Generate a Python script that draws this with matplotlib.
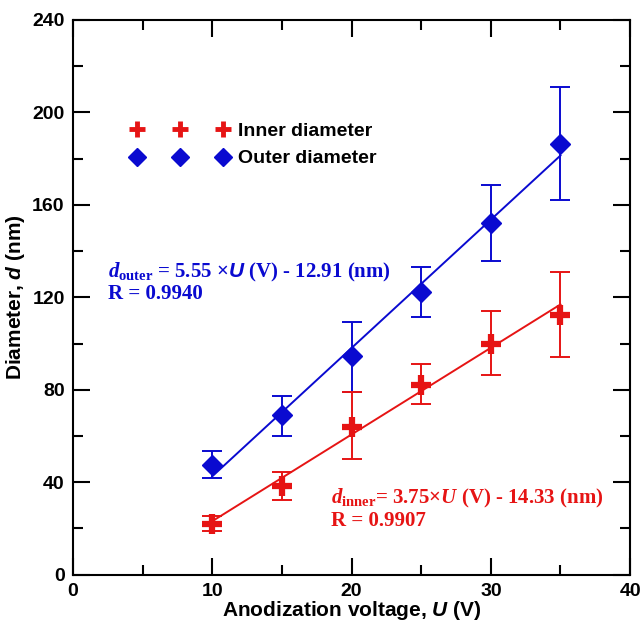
import numpy as np
import matplotlib
matplotlib.use("Agg")
from matplotlib import pyplot as plt
from matplotlib.ticker import MultipleLocator

plt.rcParams['font.family'] = ['Liberation Sans', 'DejaVu Sans']
plt.rcParams['mathtext.fontset'] = 'custom'
plt.rcParams['mathtext.rm'] = 'Liberation Serif:bold'
plt.rcParams['mathtext.it'] = 'Liberation Serif:bold:italic'
plt.rcParams['mathtext.sf'] = 'Liberation Sans:bold:italic'

# data
voltage = [10, 15, 20, 25, 30, 35]
outer = [47.5, 69, 94.5, 122.5, 152, 186.5]
outer_lo = [42, 60, 79, 111.5, 135.5, 162]
outer_hi = [53.5, 77.5, 109.5, 133, 168.5, 211]
inner = [22, 38.5, 64, 82, 100, 112.5]
inner_lo = [19, 32.5, 50, 74, 86.5, 94]
inner_hi = [25.5, 44.5, 79, 91, 114, 131]

# linear fits given in the annotations
outer_fit = (5.55, -12.91)
inner_fit = (3.75, -14.33)

blue = '#0a0ad0'
red = '#e61414'

fig = plt.figure(figsize=(6.41, 6.22), dpi=100)
ax = fig.add_axes([0.114, 0.076, 0.869, 0.892])

v = np.array(voltage)
o = np.array(outer)
i = np.array(inner)

ax.errorbar(v, o, yerr=[o - np.array(outer_lo), np.array(outer_hi) - o], fmt='none',
            ecolor=blue, elinewidth=1.4, capsize=7, capthick=1.4)
ax.errorbar(v, i, yerr=[i - np.array(inner_lo), np.array(inner_hi) - i], fmt='none',
            ecolor=red, elinewidth=1.4, capsize=7, capthick=1.4)

ax.plot(v, outer_fit[0] * v + outer_fit[1], color=blue, lw=1.4)
ax.plot(v, inner_fit[0] * v + inner_fit[1], color=red, lw=1.4)

ax.plot(v, i, '+', color=red, ms=15, mew=4.5, ls='none')
ax.plot(v, o, 'D', color=blue, ms=10, ls='none')

# legend handles with smaller markers
h1, = ax.plot([], [], '+', color=red, ms=12, mew=3.5, ls='none', label='Inner diameter')
h2, = ax.plot([], [], 'D', color=blue, ms=9, ls='none', label='Outer diameter')

ax.set_xlim(0, 40)
ax.set_ylim(0, 240)
ax.xaxis.set_major_locator(MultipleLocator(10))
ax.xaxis.set_minor_locator(MultipleLocator(5))
ax.yaxis.set_major_locator(MultipleLocator(40))
ax.yaxis.set_minor_locator(MultipleLocator(20))
ax.tick_params(which='both', direction='in', top=True, right=True, width=1.5)
ax.tick_params(which='major', length=12, labelsize=14, pad=6)
ax.tick_params(which='minor', length=7)
for lab in ax.get_xticklabels() + ax.get_yticklabels():
    lab.set_fontweight('bold')
for s in ax.spines.values():
    s.set_linewidth(1.5)

ax.set_xlabel('Anodization voltage, $\\mathsf{U}$ (V)', fontsize=15, fontweight='bold', labelpad=-1)
ax.set_ylabel('Diameter, $\\mathsf{d}$ (nm)', fontsize=15, fontweight='bold', labelpad=4)

ax.legend(handles=[h1, h2], loc='upper left', bbox_to_anchor=(0.105, 0.815), numpoints=3,
          frameon=False, prop={'weight': 'bold', 'size': 14}, handlelength=5.0,
          handletextpad=0.45, labelspacing=0.5, borderaxespad=0, borderpad=0)

ax.text(2.5, 117, r'$\mathit{d}_{\mathrm{outer}}$ = 5.55 ×$\mathsf{U}$ (V) - 12.91 (nm)' + '\nR = 0.9940',
        color=blue, fontsize=15, family='Liberation Serif', fontweight='bold', va='bottom',
        linespacing=1.05)
ax.text(18.5, 19, r'$\mathit{d}_{\mathrm{inner}}$= 3.75×$\mathit{U}$ (V) - 14.33 (nm)' + '\nR = 0.9907',
        color=red, fontsize=15, family='Liberation Serif', fontweight='bold', va='bottom',
        linespacing=1.05)

fig.savefig('out.png', dpi=100)
